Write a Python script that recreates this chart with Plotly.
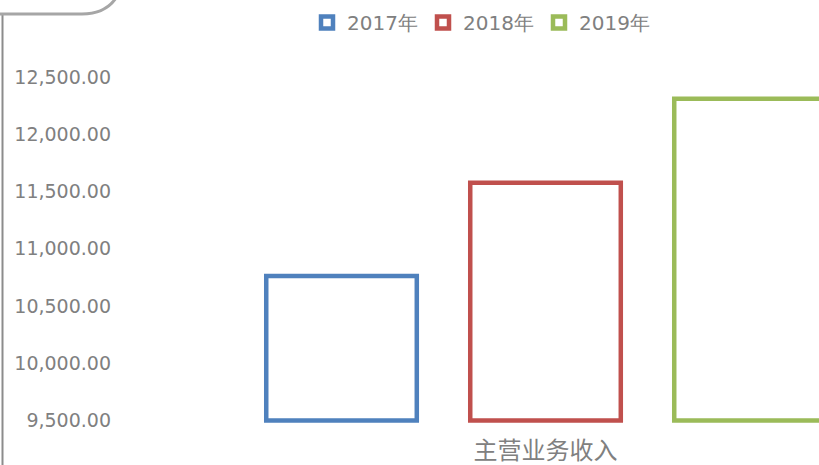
import plotly.graph_objects as go

categories = ["主营业务收入"]
series_names = ["2017年", "2018年", "2019年"]
series_values = [[10763], [11576], [12310]]
series_colors = ["#4f81bd", "#c0504d", "#9bbb59"]
tick_values = [9500, 10000, 10500, 11000, 11500, 12000, 12500]
axis_base = 9500

W, H = 819, 465
ML, MR, MT, MB = 130, 0, 77, 40
PW, PH = W - ML - MR, H - MT - MB


def px_x(x):
    return (x - ML) / PW


def px_y(y):
    return (H - MB - y) / PH


fig = go.Figure()
for name, vals, col in zip(series_names, series_values, series_colors):
    fig.add_trace(go.Bar(
        name=name,
        x=categories,
        y=[v - axis_base for v in vals],
        base=[axis_base] * len(vals),
        marker=dict(color="rgba(255,255,255,0)", line=dict(color=col, width=4.5)),
        hovertemplate="%{x}<br>" + name + ": %{customdata:,.2f}<extra></extra>",
        customdata=vals,
    ))

gray = "#808080"
fig.update_layout(
    width=W, height=H,
    margin=dict(l=ML, r=MR, t=MT, b=MB, pad=0),
    paper_bgcolor="white", plot_bgcolor="white",
    barmode="group", bargap=0.15, bargroupgap=0.262,
    font=dict(family="DejaVu Sans", size=19, color=gray),
    showlegend=True,
    legend=dict(orientation="h", x=px_x(307), y=px_y(3), xanchor="left", yanchor="top",
                entrywidth=71, entrywidthmode="pixels",
                font=dict(family="DejaVu Sans", size=20, color=gray),
                itemwidth=30, bgcolor="rgba(0,0,0,0)", borderwidth=0),
)
fig.update_xaxes(
    type="category", range=[-0.5771, -0.5771 + PW / 720.0],
    showline=False, showgrid=False, ticks="", zeroline=False,
    tickfont=dict(family="Noto Sans CJK SC", size=24, color=gray),
    ticklabelstandoff=9,
)
fig.update_yaxes(
    range=[9460.7, 12500], tickvals=tick_values, tickformat=",.2f",
    showline=False, showgrid=False, ticks="", zeroline=False,
    tickfont=dict(family="DejaVu Sans", size=19, color=gray),
    ticklabelstandoff=18,
)

# chart frame pieces (rounded outer border)
fig.add_shape(type="line", xref="paper", yref="paper",
              x0=px_x(2.5), x1=px_x(2.5), y0=px_y(14), y1=px_y(470),
              line=dict(color="#8c8c8c", width=2))
path = "M {:.4f},{:.4f} L {:.4f},{:.4f} Q {:.4f},{:.4f} {:.4f},{:.4f}".format(
    px_x(0), px_y(14), px_x(82), px_y(14), px_x(105), px_y(14), px_x(116), px_y(-2))
fig.add_shape(type="path", xref="paper", yref="paper", path=path,
              line=dict(color="#a6a6a6", width=3))

fig.write_html("out.html", config={"displayModeBar": False},
               post_script="document.body.style.margin='0';")
